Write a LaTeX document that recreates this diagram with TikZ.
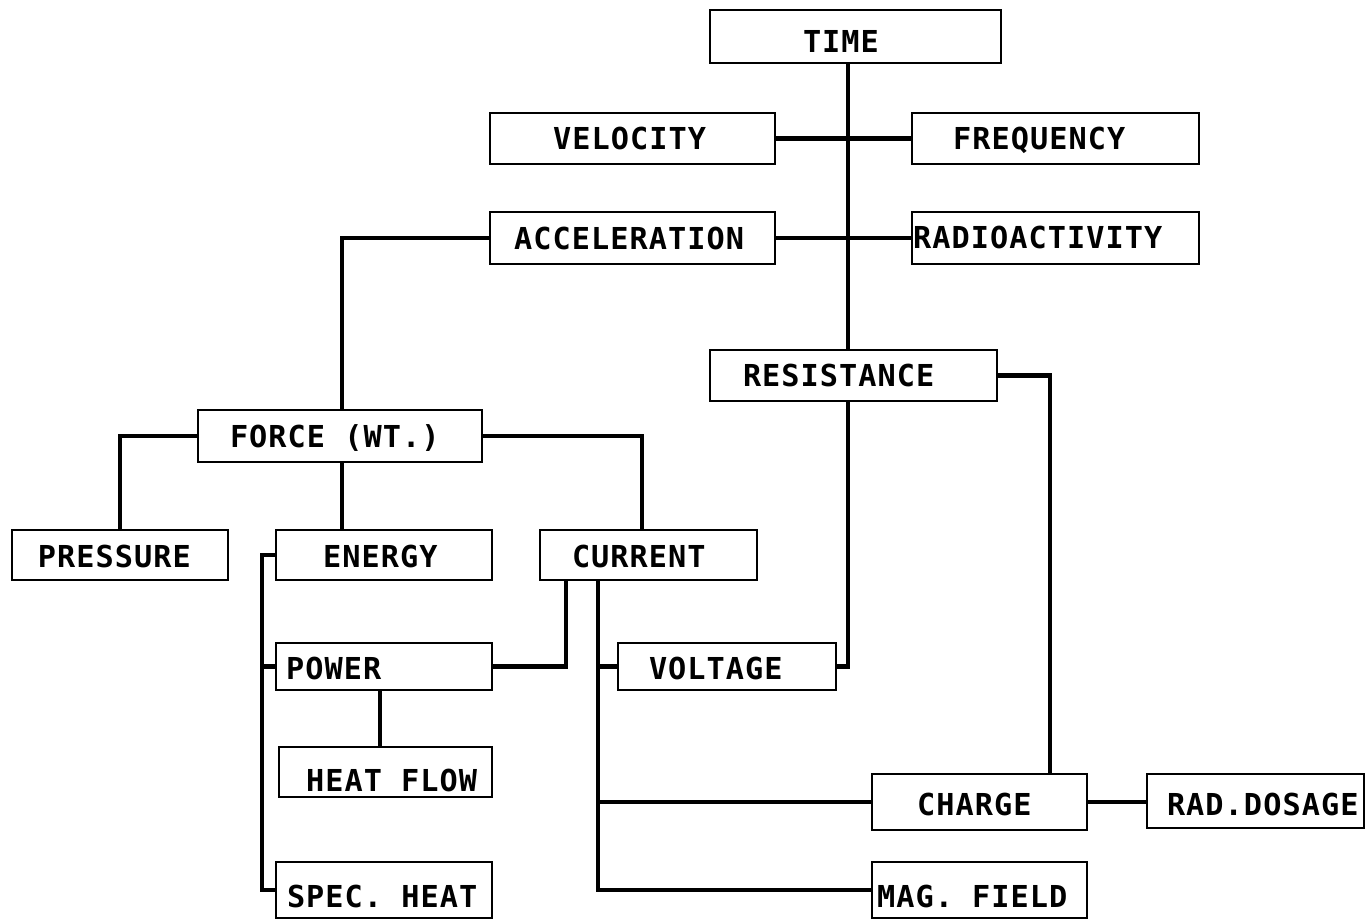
\documentclass[tikz,border=0pt]{standalone}
\usepackage{fontspec}
\newfontfamily\lettering[LetterSpace=3.5]{DejaVu Sans Mono}
\tikzset{
  box/.style={draw, line width=1.5pt, inner sep=0pt, text height=12.5pt, text depth=0pt,
    font=\lettering\bfseries\fontsize{17.2}{20}\selectfont},
  link/.style={line width=2.3pt, line join=miter, line cap=rect},
}
% #1 name, #2 x1, #3 x2, #4 y1, #5 y2, #6 text left x, #7 text centre y, #8 text
\newcommand\bx[8]{%
  \pgfmathsetmacro\bw{(#3-#2)*0.02}%
  \pgfmathsetmacro\bh{(#5-#4)*0.02}%
  \pgfmathsetmacro\bp{(#6-#2)*0.02}%
  \pgfmathsetmacro\bd{((#4+#5)/2-#7)*0.02}%
  \node[box, minimum width=\bw cm, minimum height=\bh cm] (#1) at ({(#2+#3)/2},{(#4+#5)/2})
    {\makebox[\bw cm][l]{\hspace*{\bp cm}\raisebox{\bd cm}{#8}}};}
\begin{document}
\begin{tikzpicture}[x=0.02cm, y=-0.02cm]
\useasboundingbox (0,0) rectangle (1366,920);
\bx{time}{710}{1001}{10}{63}{803}{42}{TIME}
\bx{velocity}{490}{775}{113}{164}{553}{139}{VELOCITY}
\bx{frequency}{912}{1199}{113}{164}{953}{139}{FREQUENCY}
\bx{acceleration}{490}{775}{212}{264}{514}{239}{ACCELERATION}
\bx{radioactivity}{912}{1199}{212}{264}{913}{238}{RADIOACTIVITY}
\bx{resistance}{710}{997}{350}{401}{743}{376}{RESISTANCE}
\bx{force}{198}{482}{410}{462}{230}{437}{FORCE (WT.)}
\bx{pressure}{12}{228}{530}{580}{38}{557}{PRESSURE}
\bx{energy}{276}{492}{530}{580}{323}{557}{ENERGY}
\bx{current}{540}{757}{530}{580}{572}{557}{CURRENT}
\bx{power}{276}{492}{643}{690}{286}{669}{POWER}
\bx{voltage}{618}{836}{643}{690}{649}{669}{VOLTAGE}
\bx{heatflow}{279}{492}{747}{797}{306}{781}{HEAT FLOW}
\bx{charge}{872}{1087}{774}{830}{917}{805}{CHARGE}
\bx{raddosage}{1147}{1364}{774}{828}{1167}{805}{RAD.DOSAGE}
\bx{specheat}{276}{492}{862}{918}{287}{897}{SPEC. HEAT}
\bx{magfield}{872}{1087}{862}{918}{877}{897}{MAG. FIELD}

\coordinate (spine) at (848,0);
\coordinate (cx) at (642,0);
\coordinate (lb) at (262,0);
\coordinate (pb) at (566,0);
\coordinate (rb) at (598,0);
\coordinate (rr) at (1050,0);
\coordinate (hx) at (380,0);
\coordinate (fx) at (342,0);

\draw[link] (time.south -| spine) -- (resistance.north -| spine);
\draw[link] (velocity.east) -- (frequency.west);
\draw[link] (acceleration.east) -- (acceleration.east -| radioactivity.west);
\draw[link] (acceleration.west) -| (force.north -| fx);
\draw[link] (force.west) -| (pressure.north);
\draw[link] (force.south -| fx) -- (energy.north -| fx);
\draw[link] (force.east) -| (current.north -| cx);
\draw[link] (energy.west) -| (lb |- specheat.west) -- (specheat.west);
\draw[link] (power.west) -- (power.west -| lb);
\draw[link] (current.south -| pb) |- (power.east);
\draw[link] (current.south -| rb) |- (magfield.west);
\draw[link] (voltage.west) -- (voltage.west -| rb);
\draw[link] (charge.west) -- (charge.west -| rb);
\draw[link] (resistance.south -| spine) |- (voltage.east);
\draw[link] (resistance.east) -| (charge.north -| rr);
\draw[link] (power.south -| hx) -- (heatflow.north -| hx);
\draw[link] (charge.east) -- (charge.east -| raddosage.west);
\end{tikzpicture}
\end{document}
